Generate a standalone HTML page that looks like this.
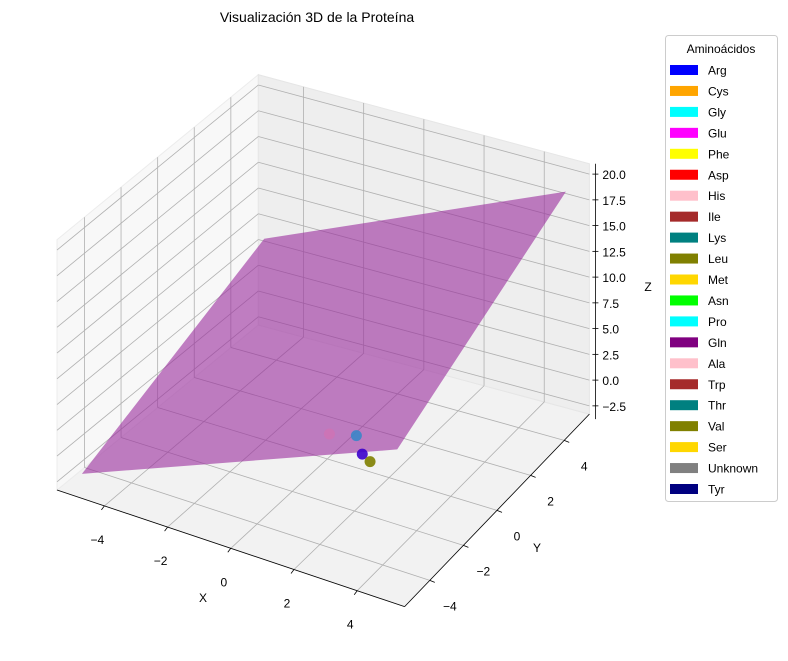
<!DOCTYPE html>
<html><head><meta charset="utf-8"><style>
body{margin:0;background:#fff;font-family:"Liberation Sans","DejaVu Sans",sans-serif}
svg text{font-family:"Liberation Sans","DejaVu Sans",sans-serif;font-size:12px;fill:#000}
</style></head><body>
<svg id="chart" width="788" height="656" viewBox="0 0 788 656" xmlns="http://www.w3.org/2000/svg">
<text x="317" y="22" text-anchor="middle" style="font-size:14px">Visualización 3D de la Proteína</text>
<g id="panes"></g><g id="grid"></g><g id="surf"></g><g id="pts"></g><g id="axes"></g>
<g id="legend"></g>
</svg>
<script>
const xTicks=[-4,-2,0,2,4];
const yTicks=[-4,-2,0,2,4];
const zTicks=[-2.5,0,2.5,5,7.5,10,12.5,15,17.5,20];
const zTickLabels=["−2.5","0.0","2.5","5.0","7.5","10.0","12.5","15.0","17.5","20.0"];
const planeCoef=[8.4,1.255,0.815]; // z = a + b*x + c*y
const surfX=[-5,5];
const surfY=[-5,5];
const ptX=[0.29,0.99,1.61,1.99];
const ptY=[-0.39,-0.085,-0.85,-1.08];
const ptZ=[0,0,0,0];
const ptColors=["#d66fb0","#3a86c8","#3b00cc","#7f7f00"];
const legendNames=["Arg","Cys","Gly","Glu","Phe","Asp","His","Ile","Lys","Leu","Met","Asn","Pro","Gln","Ala","Trp","Thr","Val","Ser","Unknown","Tyr"];
const legendColors=["#0000ff","#ffa500","#00ffff","#ff00ff","#ffff00","#ff0000","#ffc0cb","#a52a2a","#008080","#808000","#ffd700","#00ff00","#00ffff","#800080","#ffc0cb","#a52a2a","#008080","#808000","#ffd700","#808080","#000080"];

const XMIN=-5.5,XMAX=5.5,YMIN=-5.5,YMAX=5.5,ZMIN=-3.3,ZMAX=21;
const O=[57,490],EX=[31.6,10.6],EY0=[18.3,-15.0],EY1=[16.8,-17.5],EZ=[0,-10.3];
function P(x,y,z){const t=(x-XMIN)/(XMAX-XMIN);const ey=[EY0[0]+(EY1[0]-EY0[0])*t,EY0[1]+(EY1[1]-EY0[1])*t];
 return [O[0]+(x-XMIN)*EX[0]+(y-YMIN)*ey[0]+(z-ZMIN)*EZ[0],O[1]+(x-XMIN)*EX[1]+(y-YMIN)*ey[1]+(z-ZMIN)*EZ[1]];}
const NS="http://www.w3.org/2000/svg";
function mk(tag,attrs,parent){const e=document.createElementNS(NS,tag);for(const k in attrs)e.setAttribute(k,attrs[k]);document.getElementById(parent).appendChild(e);return e;}
function pts(a){return a.map(p=>p.join(",")).join(" ");}
let e;
e=mk("polygon",{points:pts([P(XMIN,YMIN,ZMIN),P(XMAX,YMIN,ZMIN),P(XMAX,YMAX,ZMIN),P(XMIN,YMAX,ZMIN)]),fill:"#f2f2f2",stroke:"#e6e6e6"},"panes");


e=mk("polygon",{points:pts([P(XMIN,YMIN,ZMIN),P(XMIN,YMAX,ZMIN),P(XMIN,YMAX,ZMAX),P(XMIN,YMIN,ZMAX)]),fill:"#f8f8f8",stroke:"#ececec"},"panes");


e=mk("polygon",{points:pts([P(XMIN,YMAX,ZMIN),P(XMAX,YMAX,ZMIN),P(XMAX,YMAX,ZMAX),P(XMIN,YMAX,ZMAX)]),fill:"#eeeeee",stroke:"#e6e6e6"},"panes");


function gl(a,b,name){const l=mk("line",{x1:a[0],y1:a[1],x2:b[0],y2:b[1],stroke:"#b0b0b0","stroke-width":0.8},"grid");}
xTicks.forEach(x=>{gl(P(x,YMIN,ZMIN),P(x,YMAX,ZMIN),'x-gridline');gl(P(x,YMAX,ZMIN),P(x,YMAX,ZMAX),'x-gridline');});
yTicks.forEach(y=>{gl(P(XMIN,y,ZMIN),P(XMAX,y,ZMIN),'y-gridline');gl(P(XMIN,y,ZMIN),P(XMIN,y,ZMAX),'y-gridline');});
zTicks.forEach(z=>{gl(P(XMIN,YMIN,z),P(XMIN,YMAX,z),'z-gridline');gl(P(XMIN,YMAX,z),P(XMAX,YMAX,z),'z-gridline');});
function zp(x,y){return planeCoef[0]+planeCoef[1]*x+planeCoef[2]*y;}
e=mk("polygon",{points:pts([P(surfX[0],surfY[0],zp(surfX[0],surfY[0])),P(surfX[1],surfY[0],zp(surfX[1],surfY[0])),P(surfX[1],surfY[1],zp(surfX[1],surfY[1])),P(surfX[0],surfY[1],zp(surfX[0],surfY[1]))]),fill:"#9a2c9d","fill-opacity":0.6},"surf");


ptX.forEach((x,i)=>{const p=P(x,ptY[i],ptZ[i]);const c=mk("circle",{cx:p[0],cy:p[1],r:5.5,fill:ptColors[i],"fill-opacity":i==0?0.6:0.9},"pts");});
function al(a,b,name){const l=mk("line",{x1:a[0],y1:a[1],x2:b[0],y2:b[1],stroke:"#000","stroke-width":0.8},"axes");}
al(P(XMIN,YMIN,ZMIN),P(XMAX,YMIN,ZMIN),'x-axis-line');
al(P(XMAX,YMIN,ZMIN),P(XMAX,YMAX,ZMIN),'y-axis-line');
const zb=P(XMAX,YMAX,ZMIN),zt=P(XMAX,YMAX,ZMAX);
al([zb[0]+6,zb[1]+5],[zt[0]+6,zt[1]],'z-axis-line');
function tx(p,s,anchor,name){const t=mk("text",{x:p[0],y:p[1],"text-anchor":anchor},"axes");t.textContent=s;}
xTicks.forEach(x=>{const p=P(x,YMIN,ZMIN);al(p,[p[0]-3,p[1]+4],'x-tick');tx([p[0]-7,p[1]+38],String(x).replace("-","−"),"middle",'x-tick-label');});
yTicks.forEach(y=>{const p=P(XMAX,y,ZMIN);al(p,[p[0]+5,p[1]+2],'y-tick');tx([p[0]+20,p[1]+30],String(y).replace("-","−"),"middle",'y-tick-label');});
zTicks.forEach((z,i)=>{const p=P(XMAX,YMAX,z);al([p[0]+3,p[1]],[p[0]+9,p[1]],'z-tick');tx([p[0]+13,p[1]+5],zTickLabels[i],"start",'z-tick-label');});
tx([203,602],"X","middle",'x-axis-title');
tx([537,552],"Y","middle",'y-axis-title');
tx([648,291],"Z","middle",'z-axis-title');
e=mk("rect",{x:665.5,y:35.5,width:112,height:466,rx:3,fill:"#fff",stroke:"#cccccc"},"legend");


e=mk("text",{x:721,y:53,"text-anchor":"middle"},"legend");e.textContent="Aminoácidos";


legendNames.forEach((n,i)=>{const y=70+i*20.95;
 const r=mk("rect",{x:670,y:y-5,width:28,height:10,fill:legendColors[i]},"legend");
 
 
 const t=mk("text",{x:708,y:y+4.5},"legend");t.textContent=n;
 
 });
</script>
</body></html>
